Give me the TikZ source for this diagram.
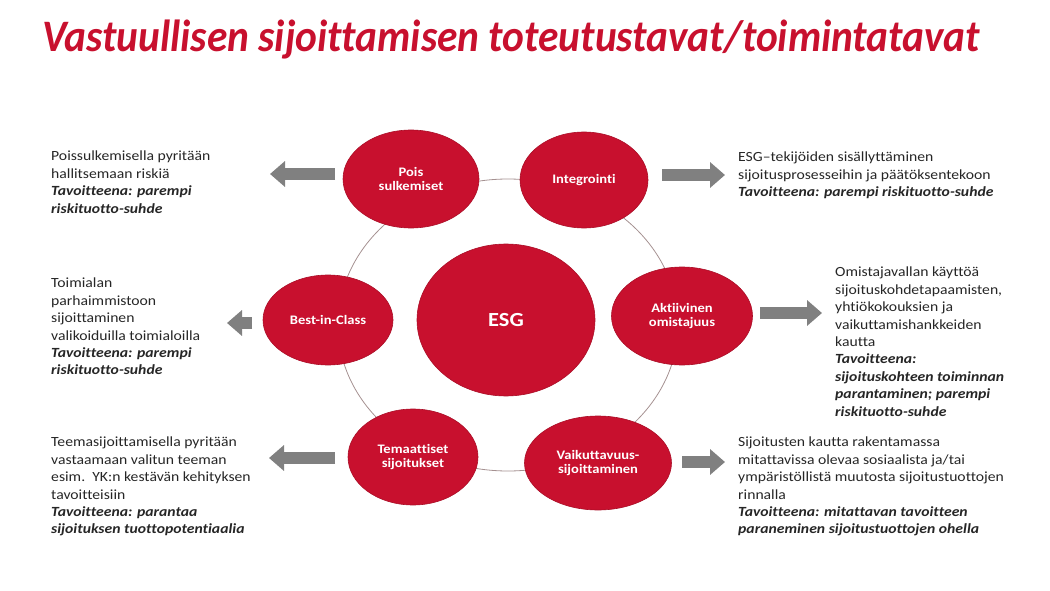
\documentclass[tikz,border=0pt]{standalone}
\usepackage{fontspec}
\setmainfont{Carlito}[FakeStretch=1.12, Ligatures=NoCommon]
\newfontfamily\titlefont{Carlito}[FakeStretch=0.92, Ligatures=NoCommon]
\usetikzlibrary{arrows.meta,shapes.geometric}
\definecolor{esgred}{RGB}{200,16,46}
\definecolor{arrowgray}{RGB}{128,128,128}
\definecolor{ringgray}{RGB}{165,145,145}
\newcommand{\goal}[1]{\textbf{\textit{#1}}}

\begin{document}
\begin{tikzpicture}[x=1pt, y=-1pt,
    blob/.style={ellipse, fill=esgred, draw=esgred!85!black, line width=0.6pt,
      text=white, align=center, inner sep=0pt,
      font=\bfseries\fontsize{13}{14.5}\selectfont},
    desc/.style={anchor=north west, inner sep=0pt, align=left, text=black!85,
      font=\fontsize{14}{17.4}\selectfont},
    fat/.style={arrowgray, line width=12pt, -{Triangle[length=15pt,width=25pt]}}]
  \useasboundingbox (0,0) rectangle (1050,591);

  \node[anchor=base west, inner sep=0pt, text=esgred,
        font=\titlefont\bfseries\itshape\fontsize{45}{50}\selectfont] (title) at (42,52)
        {Vastuullisen sijoittamisen toteutustavat/toimintatavat};

  % ring behind the circles
  \draw[ringgray, line width=0.8pt] (508,325) ellipse [x radius=170, y radius=146];

  \node[blob, minimum width=178, minimum height=152,
        font=\bfseries\fontsize{20}{24}\selectfont] (E) at (506,320) {ESG};
  \node[blob, minimum width=136, minimum height=98]  (P) at (411,179) {Pois\\sulkemiset};
  \node[blob, minimum width=128, minimum height=96]  (I) at (584,180) {Integrointi};
  \node[blob, minimum width=130, minimum height=90]  (B) at (328,320) {Best-in-Class};
  \node[blob, minimum width=141, minimum height=98]  (A) at (682,316) {Aktiivinen\\omistajuus};
  \node[blob, minimum width=130, minimum height=96]  (T) at (413,457) {Temaattiset\\sijoitukset};
  \node[blob, minimum width=147, minimum height=94]  (V) at (598,463) {Vaikuttavuus-\\sijoittaminen};

  % arrow ends
  \coordinate (p1) at (335,174); \coordinate (p2) at (270,174);
  \coordinate (i1) at (662,175); \coordinate (i2) at (725,175);
  \coordinate (b1) at (252,323); \coordinate (b2) at (227,323);
  \coordinate (a1) at (760,313); \coordinate (a2) at (822,313);
  \coordinate (t1) at (335,458); \coordinate (t2) at (269,458);
  \coordinate (v1) at (682,462); \coordinate (v2) at (725,462);
  \draw[fat] (p1) -- (p2);
  \draw[fat] (i1) -- (i2);
  \draw[fat] (b1) -- (b2);
  \draw[fat] (a1) -- (a2);
  \draw[fat] (t1) -- (t2);
  \draw[fat] (v1) -- (v2);

  \node[desc] (Ptxt) at (51,151) {Poissulkemisella pyritään\\hallitsemaan riskiä\\
    \goal{Tavoitteena: parempi}\\\goal{riskituotto-suhde}};
  \node[desc] (Itxt) at (738,152) {ESG–tekijöiden sisällyttäminen\\
    sijoitusprosesseihin ja päätöksentekoon\\\goal{Tavoitteena: parempi riskituotto-suhde}};
  \node[desc] (Btxt) at (51,278) {Toimialan\\parhaimmistoon\\sijoittaminen\\
    valikoiduilla toimialoilla\\\goal{Tavoitteena: parempi}\\\goal{riskituotto-suhde}};
  \node[desc] (Atxt) at (835,267) {Omistajavallan käyttöä\\sijoituskohdetapaamisten,\\
    yhtiökokouksien ja\\vaikuttamishankkeiden\\kautta\\\goal{Tavoitteena:}\\
    \goal{sijoituskohteen toiminnan}\\\goal{parantaminen; parempi}\\\goal{riskituotto-suhde}};
  \node[desc] (Ttxt) at (51,437) {Teemasijoittamisella pyritään\\vastaamaan valitun teeman\\
    esim.\ \ YK:n kestävän kehityksen\\tavoitteisiin\\\goal{Tavoitteena: parantaa}\\
    \goal{sijoituksen tuottopotentiaalia}};
  \node[desc] (Vtxt) at (738,437) {Sijoitusten kautta rakentamassa\\
    mitattavissa olevaa sosiaalista ja/tai\\ympäristöllistä muutosta sijoitustuottojen\\
    rinnalla\\\goal{Tavoitteena: mitattavan tavoitteen}\\
    \goal{paraneminen sijoitustuottojen ohella}};
\end{tikzpicture}
\end{document}
